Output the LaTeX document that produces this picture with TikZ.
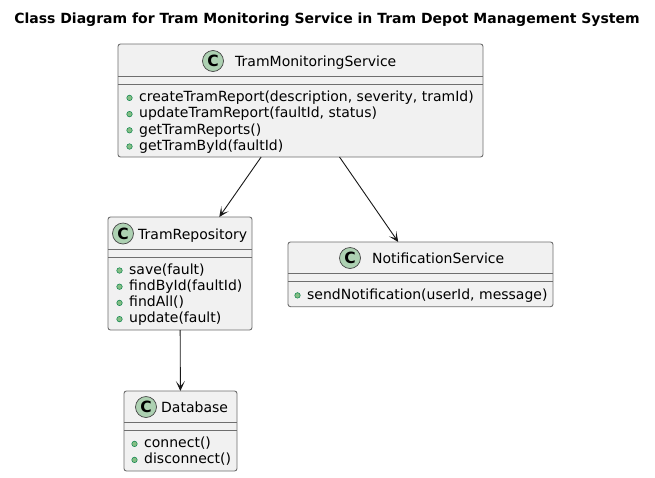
\documentclass[tikz,border=0pt]{standalone}
\usepackage{fontspec}
\setmainfont{DejaVu Sans}
\usetikzlibrary{arrows.meta}
\definecolor{boxfill}{HTML}{F1F1F1}
\definecolor{edge}{HTML}{181818}
\definecolor{boxedge}{HTML}{6E6E6E}
\definecolor{circfill}{HTML}{ADD1B2}
\definecolor{bulfill}{HTML}{84BE84}
\definecolor{buldraw}{HTML}{038048}
\newcommand\umlmeth[4]{%
  \node[bullet] (#1b) at (#2-9.5,#3-3.8) {};
  \node[member] (#1) at (#2,#3) {#4};}
\begin{document}
\begin{tikzpicture}[x=1pt,y=-1pt,
  classbox/.style={rectangle,draw=boxedge,fill=boxfill,rounded corners=2.5pt,line width=0.9pt,inner sep=0pt,outer sep=0pt,anchor=north west},
  sep/.style={draw=boxedge,line width=0.9pt},
  cls/.style={circle,draw=edge!80!white,fill=circfill,line width=0.7pt,minimum size=21pt,inner sep=0pt,font=\fontsize{15.5}{15.5}\selectfont\bfseries},
  cname/.style={anchor=base west,inner sep=0pt,font=\fontsize{14}{16}\selectfont},
  member/.style={anchor=base west,inner sep=0pt,font=\fontsize{14}{16}\selectfont},
  bullet/.style={circle,draw=buldraw,fill=bulfill,line width=0.5pt,minimum size=5.5pt,inner sep=0pt},
  link/.style={draw=edge,line width=0.9pt,-{Stealth[length=10pt,width=9pt,inset=5.5pt]}}
]
\useasboundingbox (0,0) rectangle (655,477);
\fill[white] (0,0) rectangle (655,477);
% title
\node[anchor=base,inner sep=0pt,font=\fontsize{14}{16}\selectfont\bfseries] (title) at (327,23) {Class Diagram for Tram Monitoring Service in Tram Depot Management System};
% TramMonitoringService
\node[classbox,minimum width=365pt,minimum height=113pt] (tms) at (118,44) {};
\draw[sep] (118,76) -- (483,76);
\draw[sep] (118,84) -- (483,84);
\node[cls] (tmsc) at (213,61) {C};
\node[cname] (tmsn) at (235,66) {TramMonitoringService};
\umlmeth{tmsa}{139}{101.7}{createTramReport(description, severity, tramId)}
\umlmeth{tmsb}{139}{117.9}{updateTramReport(faultId, status)}
\umlmeth{tmsd}{139}{134.1}{getTramReports()}
\umlmeth{tmse}{139}{150.3}{getTramById(faultId)}
% TramRepository
\node[classbox,minimum width=144pt,minimum height=113pt] (repo) at (108,217) {};
\draw[sep] (108,249) -- (252,249);
\draw[sep] (108,257) -- (252,257);
\node[cls] (repoc) at (123,233.5) {C};
\node[cname] (repon) at (138,239) {TramRepository};
\umlmeth{repoa}{129}{274.3}{save(fault)}
\umlmeth{repob}{129}{290.5}{findById(faultId)}
\umlmeth{repod}{129}{306.7}{findAll()}
\umlmeth{repoe}{129}{322.9}{update(fault)}
% NotificationService
\node[classbox,minimum width=265pt,minimum height=64.7pt] (notif) at (288,242) {};
\draw[sep] (288,273) -- (553,273);
\draw[sep] (288,281) -- (553,281);
\node[cls] (notifc) at (350,258) {C};
\node[cname] (notifn) at (372,263) {NotificationService};
\umlmeth{notifa}{307}{299.2}{sendNotification(userId, message)}
% Database
\node[classbox,minimum width=113pt,minimum height=80pt] (db) at (124,391) {};
\draw[sep] (124,422) -- (237,422);
\draw[sep] (124,430) -- (237,430);
\node[cls] (dbc) at (146,407) {C};
\node[cname] (dbn) at (161,412) {Database};
\umlmeth{dba}{144}{447.7}{connect()}
\umlmeth{dbb}{144}{463.7}{disconnect()}
% connectors
\draw[link] (tms) -- (repo);
\draw[link] (tms) -- (notif);
\draw[link] (repo) -- (db);
\end{tikzpicture}
\end{document}
